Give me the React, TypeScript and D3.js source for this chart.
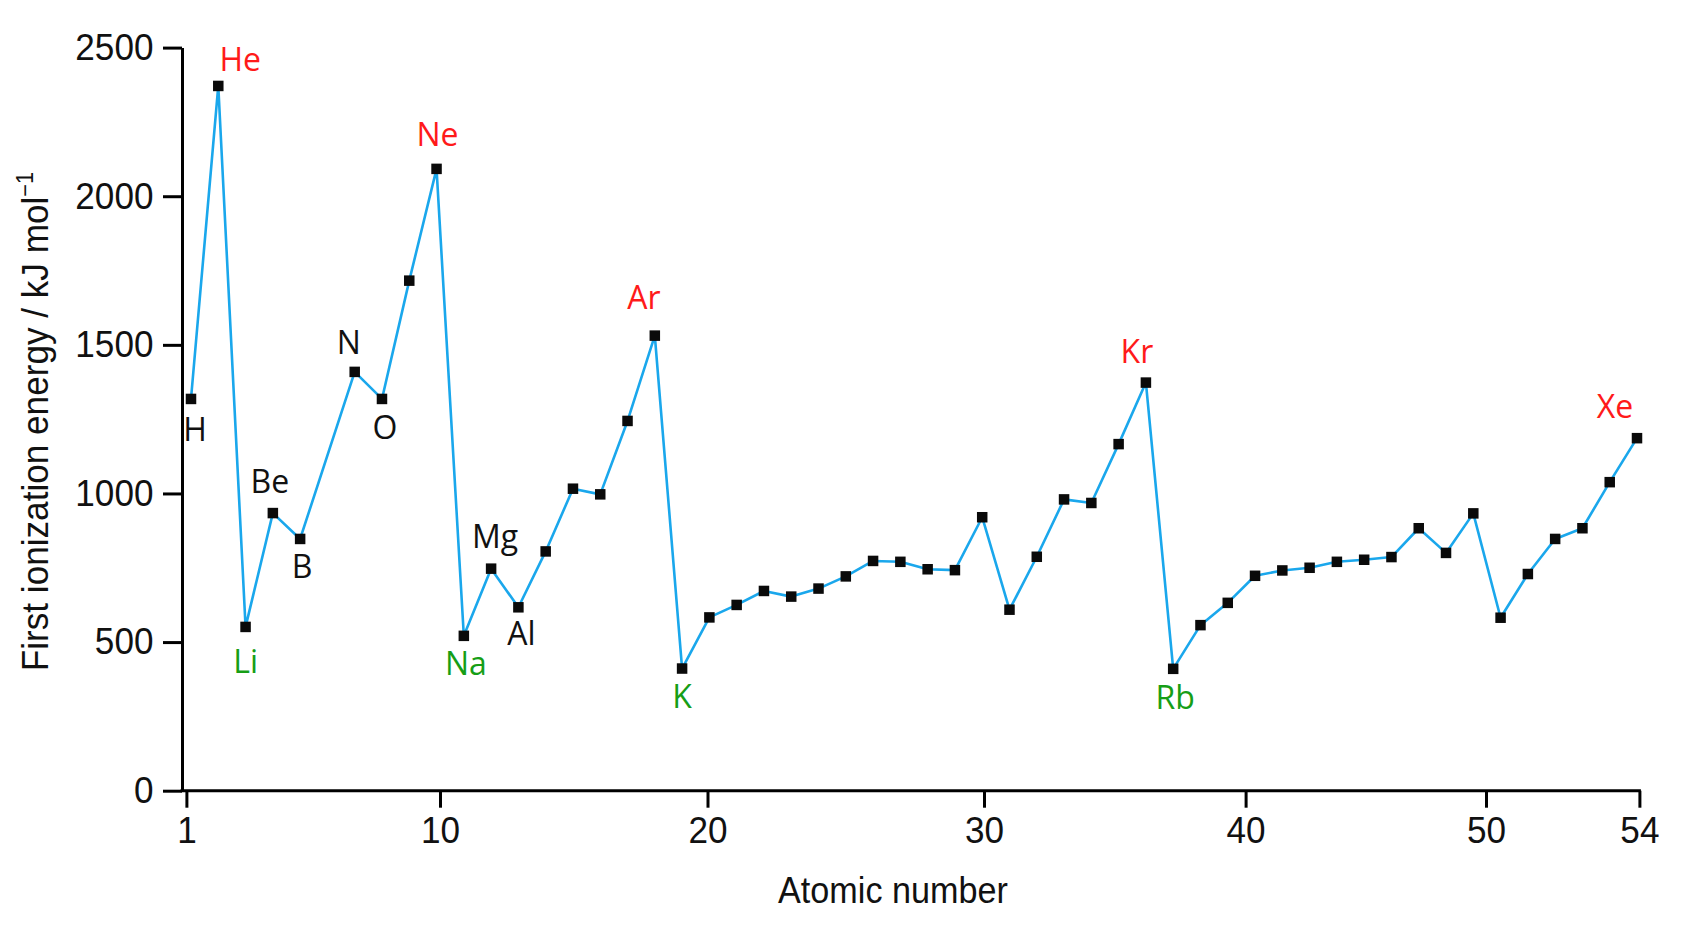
import { useRef, useEffect } from "react";
import * as d3 from "d3";

// ── Data ───────────────────────────────────────────────────────────
// (carbon is not plotted in the original)
const ELEMENTS = [
  "H", "He", "Li", "Be", "B", "N", "O", "F", "Ne",
  "Na", "Mg", "Al", "Si", "P", "S", "Cl", "Ar",
  "K", "Ca", "Sc", "Ti", "V", "Cr", "Mn", "Fe", "Co", "Ni", "Cu", "Zn", "Ga", "Ge", "As", "Se", "Br", "Kr",
  "Rb", "Sr", "Y", "Zr", "Nb", "Mo", "Tc", "Ru", "Rh", "Pd", "Ag", "Cd", "In", "Sn", "Sb", "Te", "I", "Xe",
];
const ATOMIC_NUMBERS = [
  1, 2, 3, 4, 5, 7, 8, 9, 10,
  11, 12, 13, 14, 15, 16, 17, 18,
  19, 20, 21, 22, 23, 24, 25, 26, 27, 28, 29, 30, 31, 32, 33, 34, 35, 36,
  37, 38, 39, 40, 41, 42, 43, 44, 45, 46, 47, 48, 49, 50, 51, 52, 53, 54,
];
const IONIZATION_ENERGY = [
  1318, 2371, 551, 934, 847, 1409, 1318, 1716, 2092,
  521, 747, 617, 805, 1016, 997, 1244, 1531,
  411, 583, 625, 672, 653, 680, 721, 773, 770, 745, 742, 920, 609, 787, 980, 968, 1166, 1373,
  410, 557, 632, 723, 741, 750, 770, 777, 786, 883, 800, 933, 582, 729, 847, 883, 1038, 1186,
];

const NOBLE_GASES   = ["He", "Ne", "Ar", "Kr", "Xe"];
const ALKALI_METALS = ["Li", "Na", "K", "Rb"];
const OTHER_LABELS  = ["H", "Be", "B", "N", "O", "Mg", "Al"];

const Y_TICKS = [0, 500, 1000, 1500, 2000, 2500];
const X_TICKS = [1, 10, 20, 30, 40, 50, 54];

// ── Layout ─────────────────────────────────────────────────────────
const W = 1690;
const H = 931;
const AXIS_X = 182;
const AXIS_Y = 790.7;
const TOP_Y = 47.6;
// the original's x ticks are hand placed and not evenly spaced
const X_TICK_PX = [186.4, 440, 707.5, 984, 1245.6, 1486, 1639.4];

const LINE_COLOR = "#1aa7ec";
const RED = "#ff1a1a";
const GREEN = "#169e16";
const LABEL_FONT = "'Open Sans', 'Noto Sans', sans-serif";
const AXIS_FONT = "'Liberation Sans', Arial, Helvetica, sans-serif";

// label centre offset from its marker
const LABEL_OFFSET: Record<string, [number, number]> = {
  H: [4, 31], He: [22, -26], Li: [0, 35], Be: [-3, -31], B: [2, 28],
  N: [-6, -29], O: [3, 29], Ne: [1, -34], Na: [2, 28], Mg: [4, -32],
  Al: [3, 26], Ar: [-11, -38], K: [0, 28], Kr: [-9, -31], Rb: [2, 29],
  Xe: [-22, -31],
};

export default function App() {
  const svgRef = useRef<SVGSVGElement>(null);

  useEffect(() => {
    if (!svgRef.current) return;
    const svg = d3.select(svgRef.current);
    svg.selectAll("*").remove();

    // ── Scales ──────────────────────────────────────────────────
    const yScale = d3.scaleLinear().domain([0, 2500]).range([AXIS_Y, TOP_Y]);
    const xAxisScale = d3.scaleLinear().domain(X_TICKS).range(X_TICK_PX);
    const xScale = d3.scaleLinear().domain([1, 54]).range([191, 1637]);

    // ── Y axis ──────────────────────────────────────────────────
    const yAxis = d3.axisLeft(yScale)
      .tickValues(Y_TICKS)
      .tickSize(19)
      .tickSizeOuter(0)
      .tickPadding(11)
      .tickFormat(d3.format("d"));
    const gy = svg.append("g")
      .attr("transform", `translate(${AXIS_X},0)`)
      .call(yAxis);
    gy.select(".domain").attr("stroke", "#000").attr("stroke-width", 3);
    gy.selectAll(".tick line").attr("stroke", "#000").attr("stroke-width", 3);
    gy.selectAll(".tick text")
      .attr("font-family", AXIS_FONT)
      .attr("font-size", 37)
      .attr("fill", "#111")
      .attr("transform", "scale(0.95,1)");

    // ── X axis ──────────────────────────────────────────────────
    const xAxis = d3.axisBottom(xAxisScale)
      .tickValues(X_TICKS)
      .tickSize(17)
      .tickSizeOuter(0)
      .tickPadding(9)
      .tickFormat(d3.format("d"));
    const gx = svg.append("g")
      .attr("transform", `translate(0,${AXIS_Y})`)
      .call(xAxis);
    gx.select(".domain").remove();
    gx.selectAll(".tick line").attr("stroke", "#000").attr("stroke-width", 3);
    gx.selectAll(".tick text")
      .attr("font-family", AXIS_FONT)
      .attr("font-size", 37)
      .attr("fill", "#111")
      .attr("transform", "scale(0.95,1)");
    gx.append("line")
      .attr("x1", AXIS_X - 1.5)
      .attr("x2", xAxisScale(54) + 1.5)
      .attr("y1", 0).attr("y2", 0)
      .attr("stroke", "#000")
      .attr("stroke-width", 3);

    // ── Axis titles ─────────────────────────────────────────────
    svg.append("text")
      .attr("transform", "translate(893,902.7) scale(0.95,1)")
      .attr("text-anchor", "middle")
      .attr("font-family", AXIS_FONT)
      .attr("font-size", 36)
      .attr("fill", "#111")
      .text("Atomic number");

    const yTitle = svg.append("text")
      .attr("transform", "translate(48,421.5) rotate(-90) scale(0.95,1)")
      .attr("text-anchor", "middle")
      .attr("font-family", AXIS_FONT)
      .attr("font-size", 37)
      .attr("fill", "#111");
    yTitle.append("tspan").text("First ionization energy / kJ mol");
    yTitle.append("tspan")
      .attr("font-size", 23)
      .attr("dy", -15)
      .text("\u22121");

    // ── Line + markers ──────────────────────────────────────────
    const pts = ELEMENTS.map((el, i) => ({
      el,
      x: xScale(ATOMIC_NUMBERS[i]),
      y: yScale(IONIZATION_ENERGY[i]),
    }));

    const line = d3.line<{ x: number; y: number }>().x((d) => d.x).y((d) => d.y);
    svg.append("path")
      .attr("d", line(pts) ?? "")
      .attr("fill", "none")
      .attr("stroke", LINE_COLOR)
      .attr("stroke-width", 2.6)
      .attr("stroke-linejoin", "round");

    const mk = 10.5;
    svg.append("g")
      .selectAll("rect")
      .data(pts)
      .join("rect")
      .attr("x", (d) => d.x - mk / 2)
      .attr("y", (d) => d.y - mk / 2)
      .attr("width", mk)
      .attr("height", mk)
      .attr("fill", "#0a0a0a");

    // ── Element labels ──────────────────────────────────────────
    const colorOf = (el: string) =>
      NOBLE_GASES.includes(el) ? RED : ALKALI_METALS.includes(el) ? GREEN : "#111";
    const labelled = [...OTHER_LABELS, ...NOBLE_GASES, ...ALKALI_METALS];

    svg.append("g")
      .selectAll("text")
      .data(pts.filter((p) => labelled.includes(p.el)))
      .join("text")
      .attr("x", (d) => d.x + LABEL_OFFSET[d.el][0])
      .attr("y", (d) => d.y + LABEL_OFFSET[d.el][1])
      .attr("dy", "0.35em")
      .attr("text-anchor", "middle")
      .attr("font-family", LABEL_FONT)
      .attr("font-size", 32)
      .attr("fill", (d) => colorOf(d.el))
      .text((d) => d.el);
  }, []);

  return (
    <svg
      ref={svgRef}
      width={W}
      height={H}
      style={{ position: "absolute", left: 0, top: 0, background: "#fff" }}
    />
  );
}
